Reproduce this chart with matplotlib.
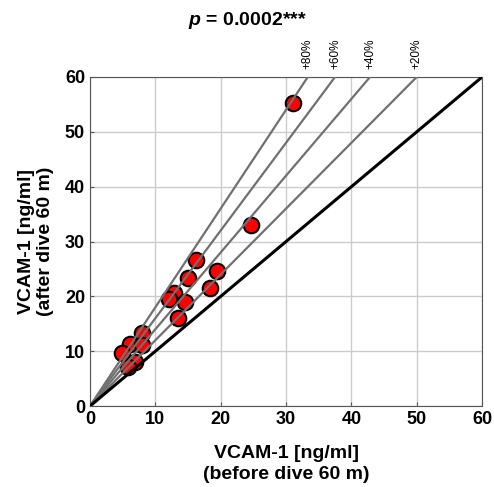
import numpy as np
import matplotlib.pyplot as plt

plt.rcParams['font.family'] = ['Liberation Sans', 'DejaVu Sans']
plt.rcParams['mathtext.fontset'] = 'custom'
plt.rcParams['mathtext.it'] = 'Liberation Sans:italic:bold'
plt.rcParams['mathtext.rm'] = 'Liberation Sans:bold'

# VCAM-1 before / after dive (ng/ml)
before = [31.1, 24.6, 16.2, 19.5, 15.0, 12.8, 12.1, 18.3, 14.5, 13.5,
          7.9, 6.1, 7.9, 4.9, 6.9, 5.9]
after = [55.3, 33.0, 26.6, 24.7, 23.4, 20.7, 19.5, 21.5, 19.0, 16.0,
         13.3, 11.4, 11.1, 9.6, 8.0, 7.2]
increases = [80, 60, 40, 20]
ticks = [0, 10, 20, 30, 40, 50, 60]

fig = plt.figure(figsize=(4.94, 4.87), dpi=100)
ax = fig.add_axes([0.182, 0.166, 0.794, 0.676])

ax.scatter(before, after, s=125, c='#ff0000', edgecolors='black',
           linewidths=1.5, zorder=3)

for inc in increases:
    k = 1 + inc / 100
    xe = 60 / k
    ax.plot([0, xe], [0, 60], color='#707070', lw=1.6, zorder=4)
    ax.text(xe, 61.5, '+%d%%' % inc, rotation=90, ha='center', va='bottom',
            fontsize=8.5)
ax.plot([0, 60], [0, 60], color='black', lw=2.2, zorder=5)

ax.set_xlim(0, 60)
ax.set_ylim(0, 60)
ax.set_xticks(ticks)
ax.set_yticks(ticks)
ax.grid(True, color='#cccccc', lw=1)
ax.set_axisbelow(True)
ax.tick_params(direction='in', length=3, labelsize=13, color='#555555')
for lab in ax.get_xticklabels() + ax.get_yticklabels():
    lab.set_fontweight('bold')
for sp in ax.spines.values():
    sp.set_color('#555555')

ax.set_xlabel('VCAM-1 [ng/ml]\n(before dive 60 m)', fontsize=14,
              fontweight='bold', linespacing=1.3, labelpad=12)
ax.set_ylabel('VCAM-1 [ng/ml]\n(after dive 60 m)', fontsize=14,
              fontweight='bold', linespacing=1.15, labelpad=8)
fig.suptitle(r'$p$ = 0.0002***', x=0.5, y=0.98,
             fontsize=14, fontweight='bold')

fig.savefig('out.png', dpi=100)
